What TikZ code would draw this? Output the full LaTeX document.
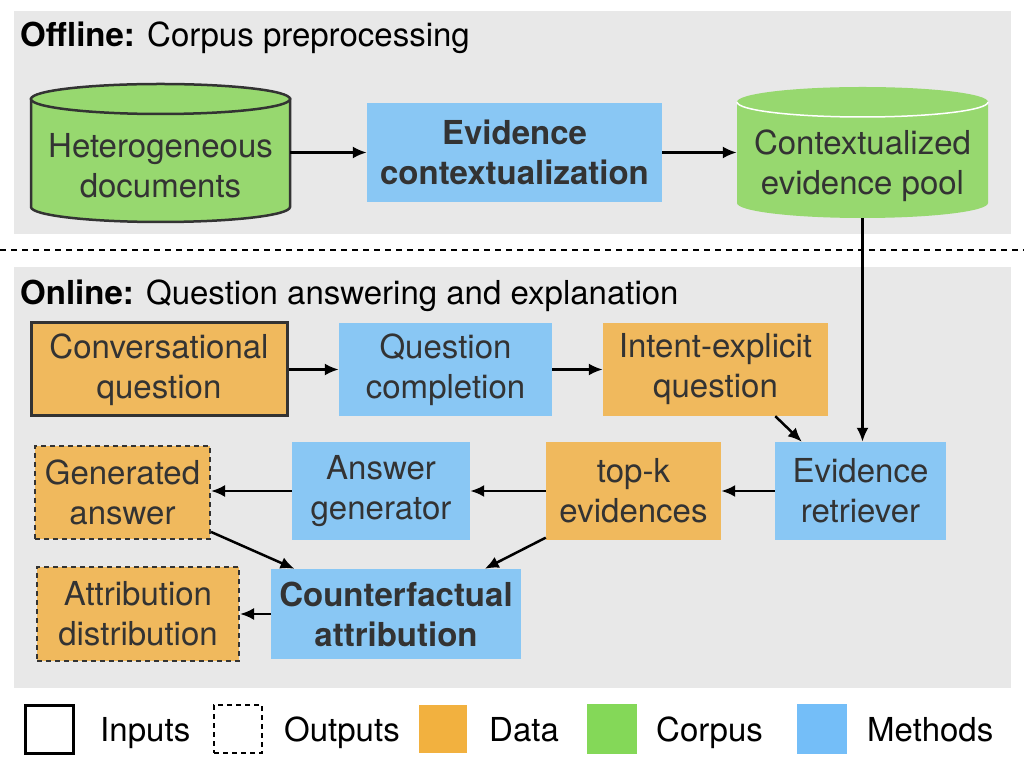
\documentclass[tikz,border=0pt]{standalone}
\usepackage{fontspec}
\setmainfont{TeX Gyre Heros}
\usetikzlibrary{arrows.meta}
\definecolor{bggray}{HTML}{E8E8E8}
\definecolor{txtgray}{HTML}{333333}
\definecolor{methodblue}{HTML}{89C7F4}
\definecolor{dataorange}{HTML}{F0B95D}
\definecolor{corpusgreen}{HTML}{97D86F}
\definecolor{keyorange}{HTML}{F2B13F}
\definecolor{keygreen}{HTML}{84D858}
\definecolor{keyblue}{HTML}{74BEF8}
\begin{document}
\begin{tikzpicture}
  [x=1pt,y=1pt,
   every node/.style={font=\fontsize{33}{40}\selectfont,inner sep=0pt,align=center,text=txtgray},
   strong/.style={font=\fontsize{33}{40}\selectfont\bfseries},
   method/.style={fill=methodblue},
   datum/.style={fill=dataorange},
   inbox/.style={draw=txtgray,line width=3pt},
   outbox/.style={draw=txtgray,line width=2pt,dash pattern=on 5pt off 4pt},
   keytext/.style={anchor=base west,text=black},
   flow/.style={line width=2.5pt,-{Latex[length=14pt,width=12pt]}}]
\useasboundingbox (0,0) rectangle (1024,763);

% backgrounds
\fill[bggray] (14,529) rectangle (1011,752);
\fill[bggray] (14,75) rectangle (1011,496);
\draw[line width=2pt,dash pattern=on 6pt off 5pt] (0,513) -- (1024,513);

\node (offtitle)[anchor=base west,text=black] at (20,716) {\textbf{Offline:} Corpus preprocessing};
\node (ontitle)[anchor=base west,text=black] at (20,458) {\textbf{Online:} Question answering and explanation};

% corpus cylinders
\path[fill=corpusgreen,draw=txtgray,line width=2.5pt] (31,664) -- (31,556)
  arc[start angle=180,end angle=360,x radius=129.5pt,y radius=15pt] -- (290,664) -- cycle;
\path[fill=corpusgreen,draw=txtgray,line width=2.5pt] (160.5,664) ellipse[x radius=129.5pt,y radius=15pt];
\path[fill=corpusgreen] (737,661) -- (737,560)
  arc[start angle=180,end angle=360,x radius=125.5pt,y radius=15pt] -- (988,661) -- cycle;
\path[fill=corpusgreen] (862.5,661) ellipse[x radius=125.5pt,y radius=15pt];
\draw[white,line width=1.5pt] (737,661) arc[start angle=180,end angle=360,x radius=125.5pt,y radius=15pt];

\node (hetdoc)[minimum width=259pt,minimum height=104pt] at (160.5,597) {Heterogeneous\\documents};
\node (evctx)[method,strong,minimum width=295pt,minimum height=99pt] at (514.5,610.5) {Evidence\\contextualization};
\node (pool)[minimum width=251pt,minimum height=104pt] at (862.5,597) {Contextualized\\evidence pool};

% online part
\node (convq)[datum,inbox,minimum width=256pt,minimum height=93pt] at (159,393.5) {Conversational\\question};
\node (qcomp)[method,minimum width=213pt,minimum height=93pt] at (445.5,393.5) {Question\\completion};
\node (intent)[datum,minimum width=225pt,minimum height=93pt] at (715.5,393.5) {Intent-explicit\\question};
\node (retriever)[method,minimum width=171pt,minimum height=98pt] at (860.5,272) {Evidence\\retriever};
\node (topk)[datum,minimum width=175pt,minimum height=98pt] at (633.5,272) {top-k\\evidences};
\node (ansgen)[method,minimum width=178pt,minimum height=98pt] at (381,272) {Answer\\generator};
\node (genans)[datum,outbox,minimum width=175pt,minimum height=93pt] at (122.5,270.5) {Generated\\answer};
\node (cfattr)[method,strong,minimum width=250pt,minimum height=90pt] at (396,149) {Counterfactual\\attribution};
\node (attrdist)[datum,outbox,minimum width=202pt,minimum height=94pt] at (138,149) {Attribution\\distribution};

\path[flow] (hetdoc.east |- evctx.west) edge (evctx.west);
\path[flow] (evctx.east) edge (evctx.east -| pool.west);
\path[flow] (pool.south) edge (pool.south |- retriever.north);
\path[flow] (convq.east) edge (qcomp.west);
\path[flow] (qcomp.east) edge (intent.west);
\path[flow] (intent.-38.5) edge (retriever.140.5);
\path[flow] (retriever.west) edge (topk.east);
\path[flow] (topk.west) edge (ansgen.east);
\path[flow] (ansgen.west) edge (ansgen.west -| genans.east);
\path[flow] (genans.-24) edge (cfattr.156);
\path[flow] (topk.208) edge (cfattr.27);
\path[flow] (cfattr.west) edge (attrdist.east);

% legend
\node (keyin)[draw=black,line width=3pt,minimum size=48pt] at (49.5,34) {};
\node (keyintext)[keytext] at (100,22) {Inputs};
\node (keyout)[draw=black,line width=2pt,dash pattern=on 5pt off 4pt,minimum size=48pt] at (238,34) {};
\node (keyouttext)[keytext] at (284,22) {Outputs};
\node (keydata)[fill=keyorange,minimum size=48pt] at (442.5,34) {};
\node (keydatatext)[keytext] at (489,22) {Data};
\node (keycorpus)[fill=keygreen,minimum size=50pt] at (611.5,34) {};
\node (keycorpustext)[keytext] at (656,22) {Corpus};
\node (keymethod)[fill=keyblue,minimum size=50pt] at (822,34) {};
\node (keymethodtext)[keytext] at (867,22) {Methods};
\end{tikzpicture}
\end{document}
